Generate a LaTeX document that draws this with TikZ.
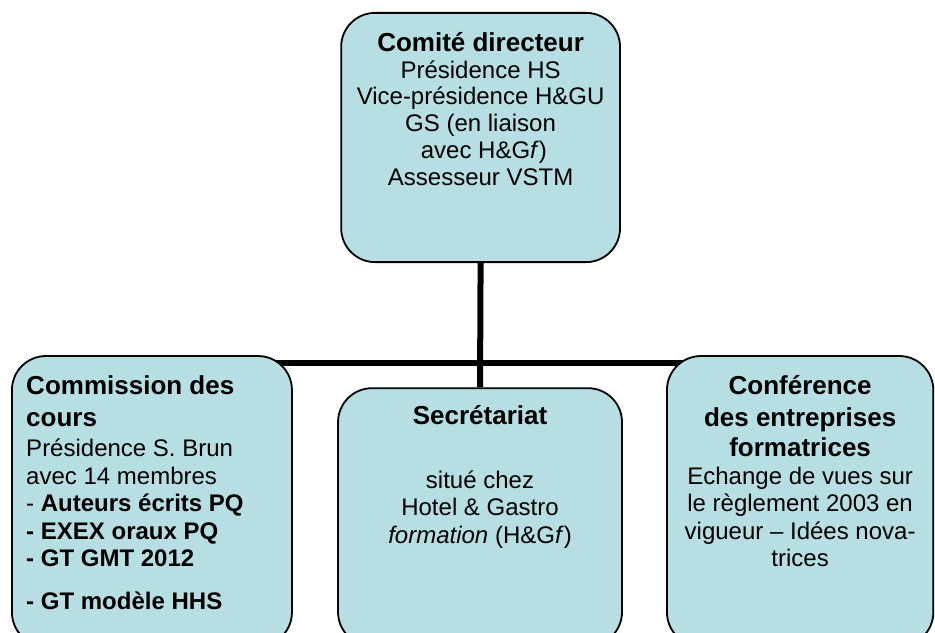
\documentclass[tikz,border=0pt]{standalone}
\usepackage{fontspec}
\setmainfont{Liberation Sans}
\usetikzlibrary{positioning,backgrounds}

\definecolor{boxblue}{RGB}{183,222,226}

\tikzset{
  orgbox/.style={draw=black, line width=0.9pt, fill=boxblue,
    rounded corners=17pt, inner sep=0pt},
  boxtext/.style={inner sep=0pt, font=\fontsize{12}{13.75}\selectfont},
  link/.style={line width=3pt},
}
\newcommand{\boxtitle}[1]{{\fontsize{13}{15.5}\selectfont\bfseries #1}}

\begin{document}
\begin{tikzpicture}
  \useasboundingbox (0,0) rectangle (16.43,11.106);
  \clip (0,0) rectangle (16.43,11.106);
  % boxes
  \node[orgbox, minimum width=4.90cm, minimum height=4.38cm] (cd) at (8.445,8.69) {};
  \node[orgbox, minimum width=4.92cm, minimum height=5.10cm] (cc) at (2.67,2.30) {};
  \node[orgbox, minimum width=4.99cm, minimum height=4.53cm] (sec) at (8.435,2.02) {};
  \node[orgbox, minimum width=4.68cm, minimum height=5.10cm] (cef) at (14.06,2.30) {};
  % texts
  \node[boxtext, align=center, font=\fontsize{12}{13.4}\selectfont,
    below=0.35cm of cd.north] (cdtext) {\boxtitle{Comité directeur}\\
    Présidence HS\\ Vice-présidence H\&GU\\ GS (en liaison\\
    \ avec H\&G\textit{f})\\ Assesseur VSTM};
  \node[boxtext, align=left, below right=0.36cm and 0.26cm of cc.north west]
    (cctext) {\boxtitle{Commission des}\\[2.25pt] \boxtitle{cours}\\[1.25pt]
    Présidence S. Brun\\ avec 14 membres\\ - \textbf{Auteurs écrits PQ}\\
    \textbf{- EXEX oraux PQ}\\ \textbf{- GT GMT 2012}\\[7.5pt]
    \textbf{- GT modèle HHS}};
  \node[boxtext, align=center, below=0.32cm of sec.north] (sectext)
    {\boxtitle{Secrétariat}\\[18pt] situé chez\\ Hotel \& Gastro\\
    \textit{formation} (H\&G\textit{f})};
  \node[boxtext, align=center, below=0.35cm of cef.north] (ceftext)
    {\boxtitle{Conférence}\\[2.25pt] \boxtitle{des entreprises}\\[1.25pt]
    \boxtitle{formatrices}\\ Echange de vues sur\\ le règlement 2003 en\\
    vigueur -- Idées nova-\\ trices};
  % connectors
  \coordinate (bar) at (0,4.727);
  \begin{pgfonlayer}{background}
    \draw[link] (cc.center |- bar) -- (cef.center |- bar);
    \draw[link] (cd.south) -- (sec.north);
  \end{pgfonlayer}
\end{tikzpicture}
\end{document}
